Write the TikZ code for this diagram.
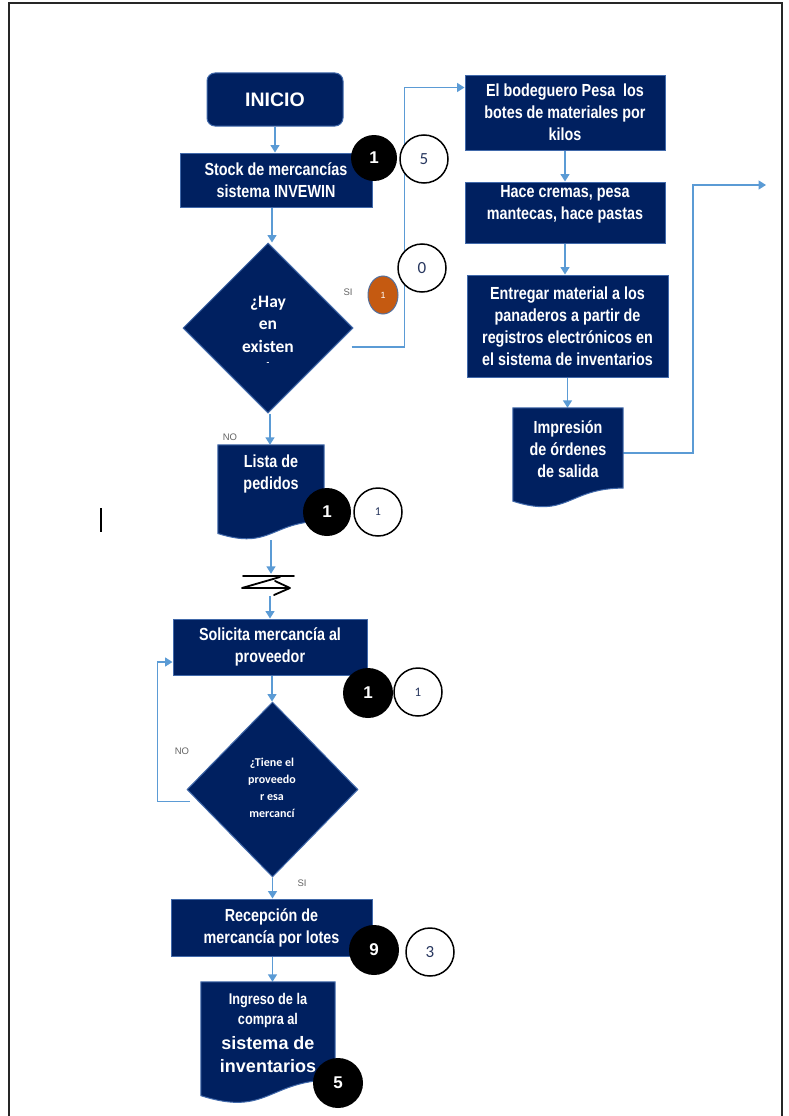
\documentclass[tikz,border=0pt]{standalone}
\usepackage{fontspec}
\setmainfont{Liberation Sans}
\newfontfamily\narf{Liberation Sans}[FakeStretch=0.82]
\newfontfamily\calf{Carlito}
\usetikzlibrary{arrows.meta,calc,shapes.geometric,backgrounds}
\definecolor{navy}{RGB}{0,32,96}
\definecolor{edgeblue}{RGB}{65,105,170}
\definecolor{arrowblue}{RGB}{91,155,213}
\definecolor{numblue}{RGB}{40,55,95}
\definecolor{orangec}{RGB}{197,90,17}
\definecolor{lblgray}{RGB}{100,100,100}
\newcommand{\docpath}[1]{%
  \path[fill=navy, draw=edgeblue, line width=1pt]
    (#1.north west) -- (#1.north east) -- ($(#1.north east)!0.80!(#1.south east)$)
    .. controls ($(#1.north)!0.80!(#1.south)$) and ($(#1.north)!1.107!(#1.south)$)
    .. ($(#1.north west)!0.93!(#1.south west)$) -- cycle;}
\begin{document}
\begin{tikzpicture}[x=1pt,y=-1pt,
  box/.style={rectangle, fill=navy, draw=edgeblue, line width=1pt, text=white,
    align=center, inner sep=0pt, font=\narf\bfseries\fontsize{17.5}{22}\selectfont},
  startbox/.style={box, rounded corners=8pt, font=\bfseries\fontsize{19.5}{22}\selectfont},
  decision/.style={diamond, fill=navy, draw=edgeblue, line width=1pt, inner sep=0pt},
  docbox/.style={rectangle, inner sep=0pt},
  doctext/.style={text=white, align=center, inner sep=0pt, font=\narf\bfseries\fontsize{17.5}{22}\selectfont},
  dectext/.style={text=white, align=center, inner sep=0pt},
  arr/.style={draw=arrowblue, line width=1.5pt, -{Triangle[length=7.5pt,width=9pt]}},
  blackc/.style={circle, fill=black, inner sep=0pt, minimum size=48pt, text=white,
    font=\bfseries\fontsize{17}{20}\selectfont},
  whitec/.style={circle, draw=black, line width=1.5pt, fill=white, inner sep=0pt,
    minimum size=48pt, text=numblue, font=\calf\fontsize{17}{20}\selectfont},
  lbl/.style={text=lblgray, inner sep=0pt, font=\fontsize{9.5}{11}\selectfont},
  frame/.style={draw=black!85, line width=2pt}
]
\useasboundingbox (0,0) rectangle (789,1116);
\begin{scope}[on background layer]
\fill[white] (0,0) rectangle (789,1116);
\end{scope}
\draw[frame] (9,1116) -- (9,3) -- (782,3) -- (782,1116);

% left column
\node[startbox, minimum width=136pt, minimum height=53pt] (inicio) at (275,99.5) {INICIO};
\node[box, minimum width=192pt, minimum height=54pt] (stock) at (276,180) {Stock de mercancías\\sistema INVEWIN};
\node[decision, minimum width=170pt, minimum height=170pt] (d1) at (268,328) {};
\node[dectext, font=\calf\bfseries\fontsize{17.5}{22.5}\selectfont] (d1t) at (268,331) {¿Hay\\en\\existen\\[-9pt]{\fontsize{9}{9}\selectfont -}};
\node[docbox, minimum width=106pt, minimum height=95pt] (lista) at (271,492.5) {};
\docpath{lista}
\node[doctext] (listat) at (271,474) {Lista de\\pedidos};
\node[minimum width=54pt, minimum height=22pt, inner sep=0pt] (brk) at (268,585) {};
\draw[line width=1.8pt, line cap=round, line join=round]
  ($(brk.center)+(-25,-9)$) -- ($(brk.center)+(26,-9)$)
  ($(brk.center)+(12,-8)$) -- ($(brk.center)+(-26,3)$) -- ($(brk.center)+(22,3)$)
  ($(brk.center)+(7,-4)$) -- ($(brk.center)+(22,3)$) -- ($(brk.center)+(6,10)$);
\node[box, minimum width=194pt, minimum height=56pt] (sol) at (270,647) {Solicita mercancía al\\proveedor};
\node[decision, minimum width=171pt, minimum height=175pt] (d2) at (272.5,789.5) {};
\node[dectext, font=\calf\bfseries\fontsize{12}{17}\selectfont] (d2t) at (272,788) {¿Tiene el\\proveedo\\r esa\\mercancí};
\node[box, minimum width=201pt, minimum height=57pt] (rec) at (271.5,927.5) {Recepción de\\mercancía por lotes};
\node[docbox, minimum width=134pt, minimum height=122pt] (ing) at (268,1043) {};
\docpath{ing}
\node[doctext, font=\narf\bfseries\fontsize{15.5}{20}\selectfont] (ingt) at (268,1033)
  {Ingreso de la\\compra al\\[5pt]{\normalfont\bfseries\fontsize{18}{24}\selectfont sistema de}\\[3pt]{\normalfont\bfseries\fontsize{18}{24}\selectfont inventarios}};

% right column
\node[box, minimum width=200pt, minimum height=75pt] (bod) at (565,112.5) {El bodeguero Pesa\ \ los\\botes de materiales por\\kilos};
\node[box, minimum width=200pt, minimum height=61pt] (hace) at (565,212.5) {Hace cremas, pesa\\mantecas, hace pastas\\[-9pt]\strut};
\node[box, minimum width=201pt, minimum height=102pt] (entr) at (567.5,326) {Entregar material a los\\panaderos a partir de\\registros electrónicos en\\el sistema de inventarios};
\node[docbox, minimum width=110pt, minimum height=100pt] (imp) at (568,458) {};
\docpath{imp}
\node[doctext] (impt) at (568,449) {Impresión\\de órdenes\\de salida};
\coordinate (out) at (766,185);

% connectors
\begin{scope}[on background layer]
\draw[arr] (inicio.south) -- (inicio.south |- stock.north);
\draw[arr] (stock.south -| d1.north) ++(4,0) -- ($(d1.north)+(4,0)$);
\draw[arr] (d1.south) ++(2,0) -- ($(d1.south |- lista.north)+(2,0)$);
\draw[arr] (lista.south) -- (lista.south |- brk.north);
\draw[arr] (brk.south) ++(2,0) -- ($(brk.south |- sol.north)+(2,0)$);
\draw[arr] (sol.south) ++(2,0) -- ($(d2.north)+(-0.5,0)$);
\draw[arr] (d2.south) -- (d2.south |- rec.north);
\draw[arr] (rec.south) ++(1,0) -- ($(rec.south |- ing.north)+(1,0)$);
\draw[arr] ($(d2.west)+(3,12)$) -| ($(sol.west)+(-15,15)$) -- ($(sol.west)+(0,15)$);
\draw[arr] ($(d1.east)+(-2,19)$) -| ($(bod.north west)+(-60,13)$) -- ($(bod.north west)+(0,13)$);
\draw[arr] (bod.south) -- (bod.south |- hace.north);
\draw[arr] (hace.south) -- (hace.south |- entr.north);
\draw[arr] (entr.south) -- (entr.south |- imp.north);
\draw[arr] ($(imp.north east)+(0,45)$) -| ($(out)+(-73,0)$) -- (out);
\end{scope}

% labels
\node[lbl] (si1) at (348,292) {SI};
\node[lbl] (no1) at (230,437) {NO};
\node[lbl] (no2) at (182,751) {NO};
\node[lbl] (si2) at (302,883) {SI};

% cursor mark
\coordinate (cur1) at (101,508);
\coordinate (cur2) at (101,532);
\draw[line width=1.2pt] (cur1) -- (cur2);

% circles
\node[blackc, minimum size=46pt] (b1) at (374,158) {1};
\node[whitec] (w1) at (424,159) {5};
\node[whitec] (w0) at (422,268) {0};
\node[ellipse, fill=orangec, draw=edgeblue!70!gray, line width=1pt, minimum width=30pt, minimum height=38pt, inner sep=0pt, text=white, font=\fontsize{9}{10}\selectfont] (o1) at (383,295) {1};
\node[blackc] (b2) at (327,512) {1};
\node[whitec, font=\calf\fontsize{12}{14}\selectfont] (w2) at (378,512) {1};
\node[blackc, minimum size=50pt] (b3) at (368,693) {1};
\node[whitec, font=\calf\fontsize{13}{15}\selectfont] (w3) at (418,692) {1};
\node[blackc, minimum size=50pt] (b4) at (374,950) {9};
\node[whitec] (w4) at (430,952) {3};
\node[blackc, minimum size=50pt] (b5) at (338,1083) {5};
\end{tikzpicture}
\end{document}
